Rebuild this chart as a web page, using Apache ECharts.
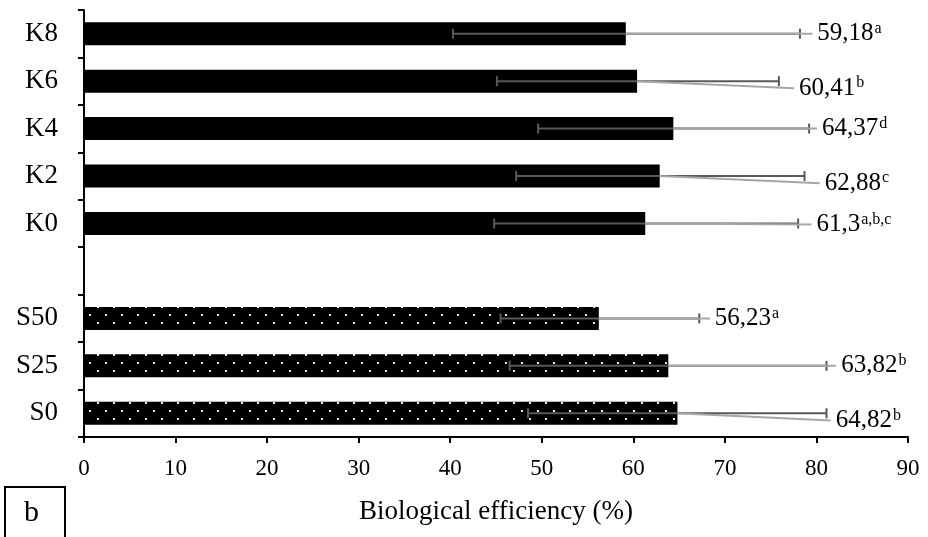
<!DOCTYPE html>
<html>
<head>
<meta charset="utf-8">
<script src="https://cdn.jsdelivr.net/npm/echarts@6/dist/echarts.min.js"></script>
<style>
html,body{margin:0;padding:0;background:#fff;}
#chart{width:928px;height:537px;}
</style>
</head>
<body>
<div id="chart"></div>
<script>
// ---- data (bottom to top) ----
var categories = ['S0', 'S25', 'S50', '', 'K0', 'K2', 'K4', 'K6', 'K8'];
var means      = [64.82, 63.82, 56.23, null, 61.3, 62.88, 64.37, 60.41, 59.18];
var errLow     = [48.5, 46.5, 45.5, null, 44.8, 47.2, 49.6, 45.1, 40.3];
var errHigh    = [81.1, 81.1, 67.2, null, 78.0, 78.7, 79.2, 75.9, 78.2];
var valueText  = ['64,82', '63,82', '56,23', '', '61,3', '62,88', '64,37', '60,41', '59,18'];
var letters    = ['b', 'b', 'a', '', 'a,b,c', 'c', 'd', 'b', 'a'];
var labelAt    = [82.1, 82.7, 68.9, null, 80.0, 80.9, 80.6, 78.1, 80.1];
var labelShift = [0.15, 0, 0, 0, 0.02, 0.15, 0, 0.15, 0];
var dotted     = [true, true, true, false, false, false, false, false, false];
var xTicks = {min: 0, max: 90, interval: 10};

// dotted pattern
var pc = document.createElement('canvas');
pc.width = 16; pc.height = 16;
var g = pc.getContext('2d');
g.fillStyle = '#000'; g.fillRect(0, 0, 16, 16);
g.fillStyle = '#e8e8e8';
g.fillRect(1, 2, 2, 2);
g.fillRect(9, 10, 2, 2);
var dotPattern = {image: pc, repeat: 'repeat'};

var FONT = '"Liberation Serif", "Times New Roman", serif';

var barData = means.map(function (m, i) {
  if (m === null) return null;
  return {value: m, itemStyle: {color: dotted[i] ? dotPattern : '#000'}};
});

var extraData = [];
means.forEach(function (m, i) {
  if (m === null) return;
  extraData.push([m, i, errLow[i], errHigh[i], labelAt[i], labelShift[i]]);
});

var chart = echarts.init(document.getElementById('chart'));
chart.setOption({
  animation: false,
  backgroundColor: '#fff',
  grid: {left: 84, right: 20, top: 10, bottom: 100},
  xAxis: {
    type: 'value', min: xTicks.min, max: xTicks.max, interval: xTicks.interval,
    name: 'Biological efficiency (%)', nameLocation: 'middle', nameGap: 61,
    nameTextStyle: {fontFamily: FONT, fontSize: 27, color: '#000'},
    axisLine: {show: true, lineStyle: {color: '#000', width: 2}},
    axisTick: {show: true, length: 6, lineStyle: {color: '#000', width: 2}},
    axisLabel: {fontFamily: FONT, fontSize: 23, color: '#000', margin: 20},
    splitLine: {show: false}
  },
  yAxis: {
    type: 'category', data: categories,
    axisLine: {show: true, lineStyle: {color: '#000', width: 2}},
    axisTick: {show: true, length: 6, lineStyle: {color: '#000', width: 2}},
    axisLabel: {fontFamily: FONT, fontSize: 27, color: '#000', margin: 26}
  },
  graphic: [{
    type: 'rect', left: 4, top: 486,
    shape: {width: 60, height: 60},
    style: {fill: '#fff', stroke: '#000', lineWidth: 2}
  }, {
    type: 'text', left: 24, top: 498,
    style: {text: 'b', font: '30px ' + FONT, fill: '#000'}
  }],
  series: [{
    type: 'bar', data: barData, barWidth: 23,
    itemStyle: {color: '#000'}
  }, {
    type: 'custom',
    data: extraData,
    encode: {x: 0, y: 1},
    z: 5,
    renderItem: function (params, api) {
      var idx = api.value(1);
      var mean = api.value(0), lo = api.value(2), hi = api.value(3);
      var lx = api.value(4), shift = api.value(5);
      var band = api.size([0, 1])[1];
      var pLo = api.coord([lo, idx]);
      var pHi = api.coord([hi, idx]);
      var pM = api.coord([mean, idx]);
      var pL = api.coord([lx, idx]);
      var y = pLo[1];
      var ly = y + shift * band;
      var cap = 5;
      var dark = '#595959', light = '#a6a6a6';
      return {
        type: 'group',
        children: [
          {type: 'line', shape: {x1: pLo[0], y1: y, x2: pHi[0], y2: y}, style: {stroke: dark, lineWidth: 2}},
          {type: 'line', shape: {x1: pLo[0], y1: y - cap, x2: pLo[0], y2: y + cap}, style: {stroke: dark, lineWidth: 2}},
          {type: 'line', shape: {x1: pHi[0], y1: y - cap, x2: pHi[0], y2: y + cap}, style: {stroke: dark, lineWidth: 2}},
          {type: 'line', shape: {x1: pM[0], y1: y, x2: pL[0] - 5, y2: ly}, style: {stroke: light, lineWidth: 2}},
          {type: 'text', x: pL[0], y: ly,
            style: {
              text: '{v|' + valueText[idx] + '}{s|' + letters[idx] + '}',
              verticalAlign: 'middle', align: 'left',
              rich: {
                v: {fontFamily: FONT, fontSize: 25, fill: '#000', color: '#000', lineHeight: 26},
                s: {fontFamily: FONT, fontSize: 16, fill: '#000', color: '#000', verticalAlign: 'top', lineHeight: 26, padding: [0, 0, 0, 1]}
              }
            }
          }
        ]
      };
    }
  }]
});
</script>
</body>
</html>
